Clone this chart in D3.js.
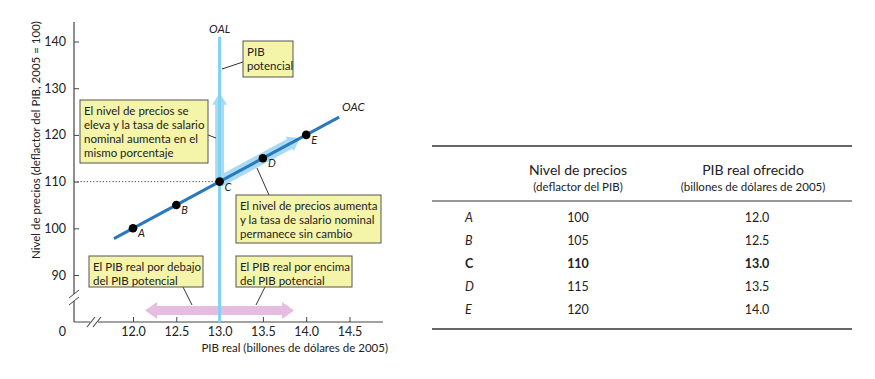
<!DOCTYPE html>
<html>
<head>
<meta charset="utf-8">
<script src="https://cdn.jsdelivr.net/npm/d3@7"></script>
<style>
  body { margin: 0; background: #fff; }
  svg text { font-family: Lato, "Noto Sans", sans-serif; fill: #222; }
</style>
</head>
<body>
<div id="chart"></div>
<script>
// data
var points = ['A', 'B', 'C', 'D', 'E'];
var priceLevel = [100, 105, 110, 115, 120];
var realGDP = [12.0, 12.5, 13.0, 13.5, 14.0];
var xTicks = [12.0, 12.5, 13.0, 13.5, 14.0, 14.5];
var yTicks = [90, 100, 110, 120, 130, 140];
var potentialGDP = 13.0;
var oacRange = [11.78, 14.38];
var tableHeaders = [['Nivel de precios', '(deflactor del PIB)'], ['PIB real ofrecido', '(billones de dólares de 2005)']];
var priceLabels = ['100', '105', '110', '115', '120'];
var gdpLabels = ['12.0', '12.5', '13.0', '13.5', '14.0'];

var width = 875, height = 379;
var svg = d3.select('#chart').append('svg')
    .attr('width', width).attr('height', height);

var x = d3.scaleLinear().domain([12, 14.5]).range([133, 349.5]);
var y = d3.scaleLinear().domain([90, 140]).range([275, 41.5]);
var axisX0 = 74, axisY0 = 322;

// y axis
var yAxis = d3.axisLeft(y).tickValues(yTicks).tickSizeInner(-5).tickSizeOuter(0).tickPadding(8);
var gy = svg.append('g').attr('transform', 'translate(' + axisX0 + ',0)').call(yAxis);
gy.select('.domain').remove();
gy.selectAll('text').style('font-size', '12.5px');
gy.selectAll('line').attr('stroke', '#444');

// x axis
var xAxis = d3.axisBottom(x).tickValues(xTicks).tickFormat(d3.format('.1f'))
    .tickSizeInner(-5).tickSizeOuter(0).tickPadding(5);
var gx = svg.append('g').attr('transform', 'translate(0,' + axisY0 + ')').call(xAxis);
gx.select('.domain').remove();
gx.selectAll('text').style('font-size', '12.5px');
gx.selectAll('line').attr('stroke', '#444');

// axis lines
svg.append('line').attr('x1', axisX0).attr('x2', axisX0).attr('y1', 22).attr('y2', axisY0)
    .attr('stroke', '#444').attr('stroke-width', 1.2);
svg.append('line').attr('x1', axisX0).attr('x2', 383).attr('y1', axisY0).attr('y2', axisY0)
    .attr('stroke', '#444').attr('stroke-width', 1.2);

// axis breaks
function brk(cx, cy) {
  [-3, 3].forEach(function (o) {
    svg.append('line').attr('x1', cx + o - 4).attr('y1', cy + 5).attr('x2', cx + o + 4).attr('y2', cy - 5)
        .attr('stroke', '#444').attr('stroke-width', 1.1);
  });
}
svg.append('rect').attr('x', axisX0 - 2).attr('y', 294).attr('width', 4).attr('height', 7).attr('fill', '#fff');
svg.append('line').attr('x1', axisX0 - 5).attr('y1', 298).attr('x2', axisX0 + 5).attr('y2', 290).attr('stroke', '#444');
svg.append('line').attr('x1', axisX0 - 5).attr('y1', 305).attr('x2', axisX0 + 5).attr('y2', 297).attr('stroke', '#444');
svg.append('rect').attr('x', 90).attr('y', axisY0 - 2).attr('width', 8).attr('height', 4).attr('fill', '#fff');
brk(94, axisY0);

svg.append('text').attr('x', 66).attr('y', 336).attr('text-anchor', 'end')
    .style('font-size', '12.5px').text('0');

// axis titles
svg.append('text').attr('x', 388).attr('y', 352).attr('text-anchor', 'end')
    .style('font-size', '11.5px').text('PIB real (billones de dólares de 2005)');
svg.append('text').attr('transform', 'translate(40,140) rotate(-90)').attr('text-anchor', 'middle')
    .style('font-size', '11.5px').text('Nivel de precios (deflactor del PIB, 2005 = 100)');

// dotted guide at point C
var ci = points.indexOf('C');
svg.append('line').attr('x1', axisX0).attr('x2', x(realGDP[ci])).attr('y1', y(priceLevel[ci])).attr('y2', y(priceLevel[ci]))
    .attr('stroke', '#444').attr('stroke-dasharray', '1.2,2');

// broad arrow helper
function broadArrow(x1, y1, x2, y2, w, head, headW) {
  var dx = x2 - x1, dy = y2 - y1, L = Math.sqrt(dx * dx + dy * dy);
  var ux = dx / L, uy = dy / L, nx = -uy, ny = ux;
  var bx = x2 - ux * head, by = y2 - uy * head;
  var pts = [
    [x1 + nx * w / 2, y1 + ny * w / 2],
    [bx + nx * w / 2, by + ny * w / 2],
    [bx + nx * headW / 2, by + ny * headW / 2],
    [x2, y2],
    [bx - nx * headW / 2, by - ny * headW / 2],
    [bx - nx * w / 2, by - ny * w / 2],
    [x1 - nx * w / 2, y1 - ny * w / 2]
  ];
  return 'M' + pts.map(function (p) { return p.join(','); }).join('L') + 'Z';
}
function doubleArrow(x1, x2, yy, w, head, headW) {
  var pts = [
    [x1, yy], [x1 + head, yy - headW / 2], [x1 + head, yy - w / 2], [x2 - head, yy - w / 2],
    [x2 - head, yy - headW / 2], [x2, yy], [x2 - head, yy + headW / 2], [x2 - head, yy + w / 2],
    [x1 + head, yy + w / 2], [x1 + head, yy + headW / 2]
  ];
  return 'M' + pts.map(function (p) { return p.join(','); }).join('L') + 'Z';
}

// pink double arrow
svg.append('path').attr('d', doubleArrow(x(12.14), x(13.86), y(82.4), 9, 12, 17))
    .attr('fill', '#e6bce0');

// light blue broad arrows from C
svg.append('path').attr('d', broadArrow(x(potentialGDP), y(110), x(potentialGDP), y(129), 9, 12, 15))
    .attr('fill', '#a9dcf4');
svg.append('path').attr('d', broadArrow(x(potentialGDP), y(110), x(13.93), y(119.3), 11, 12, 17))
    .attr('fill', '#a9dcf4');

// OAL line
svg.append('line').attr('x1', x(potentialGDP)).attr('x2', x(potentialGDP)).attr('y1', y(141)).attr('y2', axisY0)
    .attr('stroke', '#7fd2f2').attr('stroke-width', 3);
svg.append('text').attr('x', x(potentialGDP)).attr('y', 33).attr('text-anchor', 'middle')
    .style('font-size', '11.5px').style('font-style', 'italic').text('OAL');

// OAC line (slope of 10 price units per 1.0 of GDP)
var slope = (priceLevel[4] - priceLevel[0]) / (realGDP[4] - realGDP[0]);
var oac = oacRange.map(function (g) { return [g, priceLevel[0] + slope * (g - realGDP[0])]; });
svg.append('line').attr('x1', x(oac[0][0])).attr('y1', y(oac[0][1])).attr('x2', x(oac[1][0])).attr('y2', y(oac[1][1]))
    .attr('stroke', '#2a78bd').attr('stroke-width', 3);
svg.append('text').attr('x', x(oac[1][0]) + 3).attr('y', y(oac[1][1]) - 6)
    .style('font-size', '11.5px').style('font-style', 'italic').text('OAC');

// points
svg.selectAll('circle.pt').data(points).enter().append('circle').attr('class', 'pt')
    .attr('cx', function (d, i) { return x(realGDP[i]); })
    .attr('cy', function (d, i) { return y(priceLevel[i]); })
    .attr('r', 4.3).attr('fill', '#000');
svg.selectAll('text.pt').data(points).enter().append('text').attr('class', 'pt')
    .attr('x', function (d, i) { return x(realGDP[i]) + 5; })
    .attr('y', function (d, i) { return y(priceLevel[i]) + 9; })
    .style('font-size', '11px').style('font-style', 'italic').text(function (d) { return d; });

// callout boxes
var boxes = [
  { x: 243, y: 41, w: 50, h: 36, lines: ['PIB', 'potencial'], lead: [[222, 69], [243, 62]] },
  { x: 80, y: 100, w: 128, h: 63, lines: ['El nivel de precios se', 'eleva y la tasa de salario', 'nominal aumenta en el', 'mismo porcentaje'], lead: [[208, 135], [216, 138]] },
  { x: 236, y: 195, w: 145, h: 48, lines: ['El nivel de precios aumenta', 'y la tasa de salario nominal', 'permanece sin cambio'], lead: [[257, 168], [269, 195]] },
  { x: 89, y: 256, w: 114, h: 31, lines: ['El PIB real por debajo', 'del PIB potencial'], lead: [[183, 287], [192, 305]] },
  { x: 236, y: 256, w: 116, h: 31, lines: ['El PIB real por encima', 'del PIB potencial'], lead: [[265, 287], [256, 305]] }
];
boxes.forEach(function (b) {
  svg.append('line').attr('x1', b.lead[0][0]).attr('y1', b.lead[0][1]).attr('x2', b.lead[1][0]).attr('y2', b.lead[1][1])
      .attr('stroke', '#333').attr('stroke-width', 1);
  svg.append('rect').attr('x', b.x).attr('y', b.y).attr('width', b.w).attr('height', b.h)
      .attr('fill', '#f5f5aa').attr('stroke', '#555').attr('stroke-width', 1);
  b.lines.forEach(function (t, i) {
    svg.append('text').attr('x', b.x + 4).attr('y', b.y + 14.5 + i * 14)
        .style('font-size', '11.5px').text(t);
  });
});

// table
var tx0 = 432, tx1 = 852;
[146, 201, 329].forEach(function (ry, i) {
  svg.append('line').attr('x1', tx0).attr('x2', tx1).attr('y1', ry).attr('y2', ry)
      .attr('stroke', '#333').attr('stroke-width', i === 1 ? 1 : 1.5);
});
var colX = [578, 753];
tableHeaders.forEach(function (h, i) {
  svg.append('text').attr('x', colX[i]).attr('y', 175).attr('text-anchor', 'middle')
      .style('font-size', '14px').text(h[0]);
  svg.append('text').attr('x', colX[i]).attr('y', 191).attr('text-anchor', 'middle')
      .style('font-size', '11.5px').text(h[1]);
});
var rowY = d3.scalePoint().domain(points).range([218, 310]);
points.forEach(function (p, i) {
  var bold = p === 'C';
  var ry = rowY(p) + 4;
  svg.append('text').attr('x', 465).attr('y', ry).style('font-size', '12.5px')
      .style('font-style', bold ? 'normal' : 'italic').style('font-weight', bold ? 'bold' : 'normal').text(p);
  svg.append('text').attr('x', colX[0]).attr('y', ry).attr('text-anchor', 'middle').style('font-size', '12.5px')
      .style('font-weight', bold ? 'bold' : 'normal').text(priceLabels[i]);
  svg.append('text').attr('x', 757).attr('y', ry).attr('text-anchor', 'middle').style('font-size', '12.5px')
      .style('font-weight', bold ? 'bold' : 'normal').text(gdpLabels[i]);
});
</script>
</body>
</html>
